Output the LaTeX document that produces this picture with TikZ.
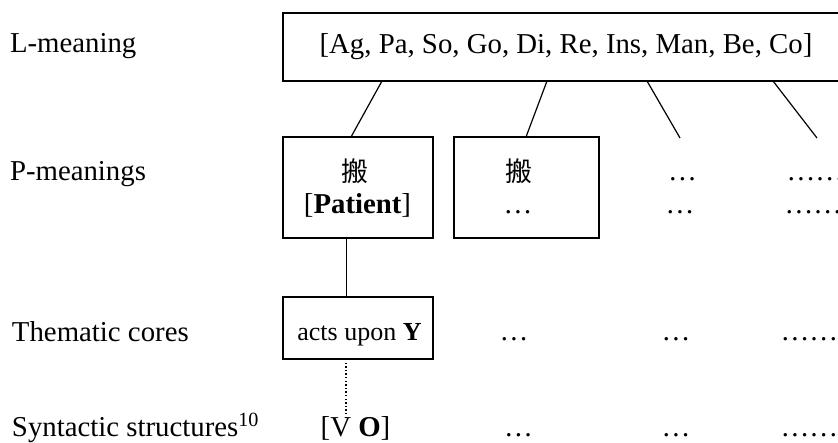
\documentclass[tikz,border=0pt]{standalone}
\usepackage{fontspec}
\setmainfont{Liberation Serif}
\newfontfamily\cjk{Noto Sans CJK SC}
\usetikzlibrary{calc}
\begin{document}
\begin{tikzpicture}[x=1pt,y=-1pt,
  every node/.style={inner sep=0pt, outer sep=0pt},
  txt/.style={font=\fontsize{28.8}{34}\selectfont, anchor=base},
  smalltxt/.style={font=\fontsize{26}{30}\selectfont, anchor=base},
  hanzi/.style={font=\cjk\fontsize{27}{30}\selectfont, anchor=center},
  rowlabel/.style={txt, anchor=base west},
  frame/.style={draw, line width=1.2pt, rectangle},
  link/.style={line width=1.2pt},
  dotlink/.style={line width=1.4pt, dash pattern=on 1.4pt off 2.2pt},
  ]
\useasboundingbox (0,0) rectangle (838,442);
\clip (0,0) rectangle (838,442);

% row labels
\node[rowlabel] (lL) at (10,52) {L-meaning};
\node[rowlabel] (lP) at (10,180) {P-meanings};
\node[rowlabel] (lT) at (12,341) {Thematic cores};
\node[rowlabel] (lS) at (12,436) {Syntactic structures\textsuperscript{10}};

% L-meaning
\node[frame, txt, anchor=center, minimum width=566pt, minimum height=68pt]
  (lm) at (566,47) {[Ag, Pa, So, Go, Di, Re, Ins, Man, Be, Co]};

% P-meanings
\node[frame, minimum width=150pt, minimum height=101pt] (p1) at (358,187.5) {};
\node[frame, minimum width=145pt, minimum height=101pt] (p2) at (526.5,187.5) {};
\node[hanzi] (p1a) at (355,171) {搬};
\node[txt] (p1b) at (357.5,213) {[\textbf{Patient}]};
\node[hanzi] (p2a) at (519,171) {搬};
\node[txt] (p2b) at (518,213) {…};
\node[txt] (p3a) at (682.5,180) {…};
\node[txt] (p3b) at (680,213) {…};
\node[txt, anchor=base west] (p4a) at (786.5,180) {……};
\node[txt, anchor=base west] (p4b) at (784.5,213) {……};

% thematic cores
\node[frame, minimum width=150pt, minimum height=62pt] (th) at (358,328) {};
\node[smalltxt] (tha) at (359.5,340) {acts upon \textbf{Y}};
\node[txt] (t2) at (514,340) {…};
\node[txt] (t3) at (676,340) {…};
\node[txt, anchor=base west] (t4) at (780.5,340) {……};

% syntactic structures
\node[txt] (vo) at (355.5,436) {[V \textbf{O}]};
\node[txt] (s2) at (518.5,436) {…};
\node[txt] (s3) at (676,436) {…};
\node[txt, anchor=base west] (s4) at (780.5,436) {……};

% connectors
\coordinate (e3) at (680,138);
\coordinate (e4) at (817,138);
\draw[link] ($(lm.south west)+(99,0)$) -- ($(p1.north west)+(68,0)$);
\draw[link] ($(lm.south west)+(264,0)$) -- ($(p2.north west)+(72,0)$);
\draw[link] ($(lm.south west)+(364,0)$) -- (e3);
\draw[link] ($(lm.south west)+(490,0)$) -- (e4);
\draw[link] ($(p1.south)+(-11.5,0)$) -- ($(th.north)+(-11.5,0)$);
\draw[dotlink] ($(th.south)+(-12,0)$) -- ($(vo.north)+(-9.5,4)$);
\end{tikzpicture}
\end{document}
